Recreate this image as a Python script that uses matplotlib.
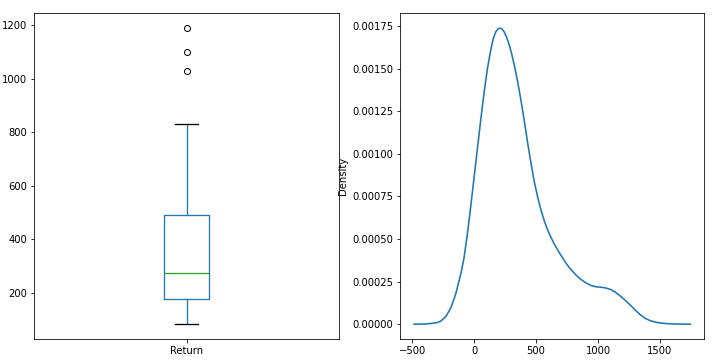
import numpy as np
import matplotlib
matplotlib.use('Agg')
import matplotlib.pyplot as plt

# box plot statistics
column = 'Return'
whisker_low = 81.5
q1 = 174
median = 275
q3 = 491
whisker_high = 831
outliers = [1030, 1101, 1190]

# density curve, points
kde_x = [-484, -400, -349, -300, -269, -228, -188, -148, -107, -81, -53, -27,
         0, 27, 54, 81, 108, 135, 155, 175, 192, 210, 227, 245, 262, 282, 303,
         323, 350, 377, 404, 431, 458, 485, 512, 538, 565, 592, 620, 650, 685,
         740, 780, 820, 860, 900, 941, 980, 1022, 1060, 1102, 1140, 1183, 1222,
         1264, 1304, 1344, 1385, 1425, 1465, 1506, 1560, 1620, 1747]
kde_y = [0, 0.000001, 0.000004, 0.000009, 0.000018, 0.000045, 0.000095,
         0.000178, 0.000295, 0.00039, 0.000535, 0.00069, 0.00086, 0.00103,
         0.0012, 0.00136, 0.0015, 0.00161, 0.001675, 0.001715, 0.001732,
         0.001737, 0.001731, 0.001712, 0.001685, 0.001643, 0.001588, 0.001525,
         0.00143, 0.00132, 0.0012, 0.00107, 0.00095, 0.00084, 0.00075,
         0.000675, 0.00061, 0.000556, 0.00051, 0.000467, 0.000423, 0.00036,
         0.000322, 0.00029, 0.000264, 0.000244, 0.000228, 0.00022, 0.000217,
         0.000213, 0.000204, 0.000188, 0.000164, 0.000139, 0.00011, 0.000081,
         0.000054, 0.000033, 0.00002, 0.000012, 0.000007, 0.000003, 0.000001,
         0]

W, H = 716, 363
fig = plt.figure(figsize=(W / 72, H / 72), dpi=72)
ax1 = fig.add_axes([34 / W, 24 / H, 305 / W, 325.7 / H])
ax2 = fig.add_axes([400.3 / W, 24 / H, 304 / W, 325.7 / H])

stats = [dict(label=column, whislo=whisker_low, q1=q1, med=median, q3=q3,
              whishi=whisker_high, fliers=outliers)]
ax1.bxp(stats, positions=[1], widths=0.15,
        boxprops=dict(color='#1f77b4', linewidth=1.3),
        whiskerprops=dict(color='#1f77b4', linewidth=1.3),
        medianprops=dict(color='#2ca02c', linewidth=1.3),
        capprops=dict(color='k', linewidth=1.3),
        flierprops=dict(marker='o', markerfacecolor='none',
                        markeredgecolor='k', markersize=6))
ax1.set_xlim(0.5, 1.5)

ax2.plot(kde_x, kde_y, color='#1f77b4', lw=1.6)
ax2.set_ylabel('Density')
ax2.set_xticks([-500, 0, 500, 1000, 1500])

fig.savefig('out.png', dpi=72)
